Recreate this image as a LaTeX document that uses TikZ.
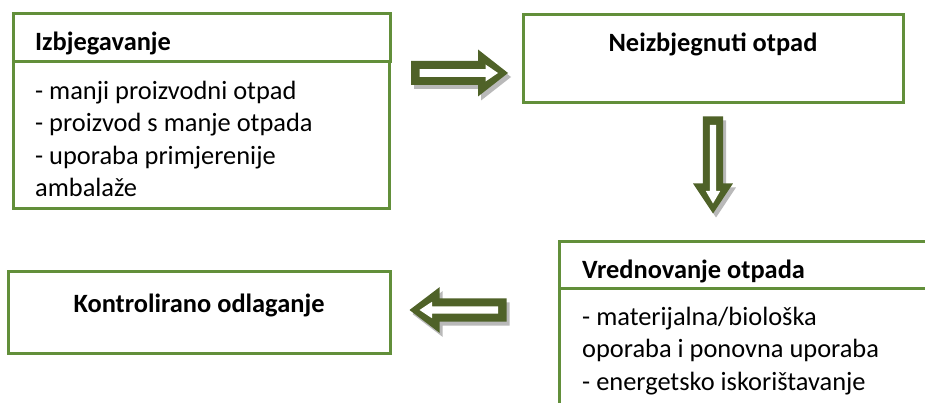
\documentclass[tikz,border=0pt]{standalone}
\usepackage{fontspec}
\setmainfont{Carlito}
\usepackage{tikz}
\usetikzlibrary{calc}
\definecolor{boxgreen}{RGB}{98,143,58}
\definecolor{arrowolive}{RGB}{79,98,40}
\definecolor{shadowgrey}{RGB}{185,185,185}
\def\outerarrow{(-48.5,-12) -- (18.5,-12) -- (18.5,-23.5) -- (48.5,0) -- (18.5,23.5) -- (18.5,12) -- (-48.5,12) -- cycle}
\def\innerarrow{(-40,-3.8) -- (26,-3.8) -- (26,-8.5) -- (38.5,0) -- (26,8.5) -- (26,3.8) -- (-40,3.8) -- cycle}
\def\blockarrow[#1](#2,#3)(#4){%
	\begin{scope}[shift={($(#2,#3)+(3,4)$)}, rotate=#4, #1]
		\fill[shadowgrey] \outerarrow;
	\end{scope}
	\begin{scope}[shift={(#2,#3)}, rotate=#4, #1]
		\fill[arrowolive] \outerarrow;
		\fill[white] \innerarrow;
	\end{scope}}

\begin{document}
\begin{tikzpicture}[x=1pt, y=-1pt,
		boxline/.style={draw=boxgreen, line width=3},
		title/.style={inner sep=0, font=\fontsize{26.4}{32.5}\selectfont\bfseries},
		body/.style={inner sep=0, align=left, font=\fontsize{26.4}{32.5}\selectfont}]
		%%%%% START %%%%%
		
		\clip (0, 0) rectangle (925, 403);
		\fill[white] (0, 0) rectangle (925, 403);
		
		% Izbjegavanje
		\draw[boxline] (13, 14) rectangle (390, 62);
		\draw[boxline] (13, 62) rectangle (389, 209);
		\node[title, anchor=base west] (avoidtitle) at (35, 51) {Izbjegavanje};
		\node[body, anchor=north west] (avoidlist) at (35, 80.5) {- manji proizvodni otpad\\- proizvod s manje otpada\\- uporaba primjerenije\\ambalaže};
		
		% Neizbjegnuti otpad
		\draw[boxline] (523, 15) rectangle (903, 103);
		\node[title, anchor=base] (unavoidtitle) at (713, 52) {Neizbjegnuti otpad};
		
		% Vrednovanje otpada
		\draw[boxline] (559, 241) rectangle (940, 288);
		\draw[boxline] (559, 288) rectangle (940, 420);
		\node[title, anchor=base west] (recovertitle) at (582, 278) {Vrednovanje otpada};
		\node[body, anchor=north west] (recoverlist) at (582, 306.5) {- materijalna/biološka\\oporaba i ponovna uporaba\\- energetsko iskorištavanje};
		
		% Kontrolirano odlaganje
		\draw[boxline] (8, 271) rectangle (390, 353);
		\node[title, anchor=base] (disposaltitle) at (199, 312) {Kontrolirano odlaganje};
		
		% block arrows
		\blockarrow[](459.5, 73)(0)
		\blockarrow[yscale=0.85](713, 165)(-90)
		\blockarrow[yscale=0.97](458, 310)(180)
		
		%%%%% END %%%%%
\end{tikzpicture}
\end{document}
